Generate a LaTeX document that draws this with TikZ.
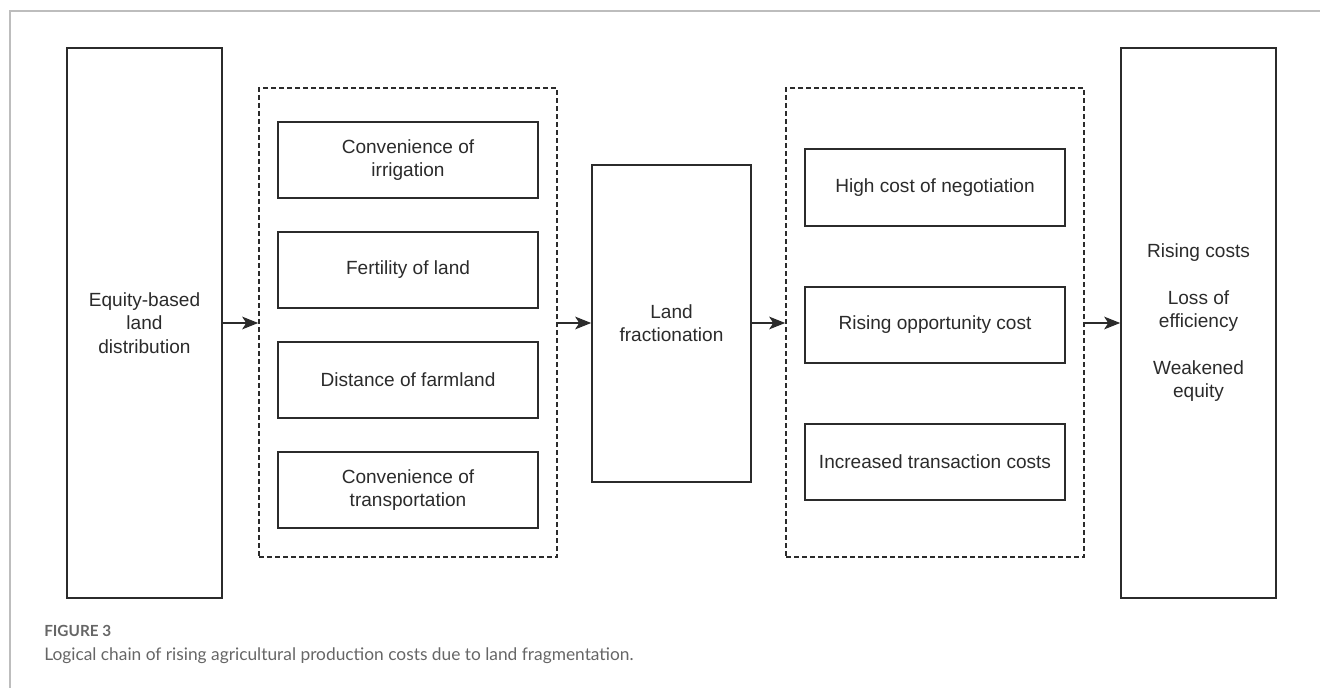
\documentclass[tikz,border=0pt]{standalone}
\usepackage{fontspec}
\setmainfont{Liberation Sans}
\newfontfamily\capfont{Lato}
\usetikzlibrary{arrows.meta,fit}
\definecolor{ink}{HTML}{2B2B2B}
\definecolor{framegray}{HTML}{BDBDBD}
\definecolor{capgray}{HTML}{666666}
\begin{document}
\begin{tikzpicture}[x=0.75pt,y=-0.75pt,
  box/.style={draw=ink, line width=1.2pt, inner sep=0pt},
  lbl/.style={inner sep=0pt, align=center, font=\fontsize{14.3}{17.5}\selectfont, text=ink},
  group/.style={draw=ink, line width=1.2pt, dash pattern=on 3.5pt off 2.5pt, inner sep=0pt},
  arr/.style={-{Stealth[length=12pt,width=9.5pt,inset=3pt]}, line width=1.2pt, draw=ink},
  captext/.style={anchor=base west, inner sep=0pt, text=capgray}
]
\useasboundingbox (0,0) rectangle (1320,688);
\draw[framegray, line width=0.9pt] (10,688) -- (10,11) -- (1320,11);

\node[box, fit={(67,48)(222,598)}] (eq) {};
\node[lbl] (eqt) at (eq.center) {Equity-based\\land\\distribution};

\node[group, fit={(259,88)(557,557)}] (g1) {};
\node[box, fit={(278,122)(538,198)}] (f1) {};
\node[lbl] (f1t) at (f1.center) {Convenience of\\irrigation};
\node[box, fit={(278,232)(538,308)}] (f2) {};
\node[lbl] (f2t) at (f2.center) {Fertility of land};
\node[box, fit={(278,342)(538,418)}] (f3) {};
\node[lbl] (f3t) at (f3.center) {Distance of farmland};
\node[box, fit={(278,452)(538,528)}] (f4) {};
\node[lbl] (f4t) at (f4.center) {Convenience of\\transportation};

\node[box, fit={(592,165)(751,482)}] (lf) {};
\node[lbl] (lft) at (lf.center) {Land\\fractionation};

\node[group, fit={(786,88)(1084,557)}] (g2) {};
\node[box, fit={(805,149)(1065,226)}] (c1) {};
\node[lbl] (c1t) at (c1.center) {High cost of negotiation};
\node[box, fit={(805,287)(1065,363)}] (c2) {};
\node[lbl] (c2t) at (c2.center) {Rising opportunity cost};
\node[box, fit={(805,424)(1065,500)}] (c3) {};
\node[lbl] (c3t) at (c3.center) {Increased transaction costs};

\node[box, fit={(1121,48)(1276,598)}] (res) {};
\node[lbl] (rest) at (res.center) {Rising costs\\[17.5pt]Loss of\\efficiency\\[17.5pt]Weakened\\equity};

\draw[arr] (eq.east) -- (eq.east -| g1.west);
\draw[arr] (g1.east |- eq.east) -- (eq.east -| lf.west);
\draw[arr] (lf.east |- eq.east) -- (eq.east -| g2.west);
\draw[arr] (g2.east |- eq.east) -- (eq.east -| res.west);

\node[captext, font=\capfont\bfseries\fontsize{11.5}{13}\selectfont] (fig) at (44,636) {FIGURE 3};
\node[captext, font=\capfont\fontsize{13}{16}\selectfont] (caption) at (44,660) {Logical chain of rising agricultural production costs due to land fragmentation.};
\end{tikzpicture}
\end{document}
